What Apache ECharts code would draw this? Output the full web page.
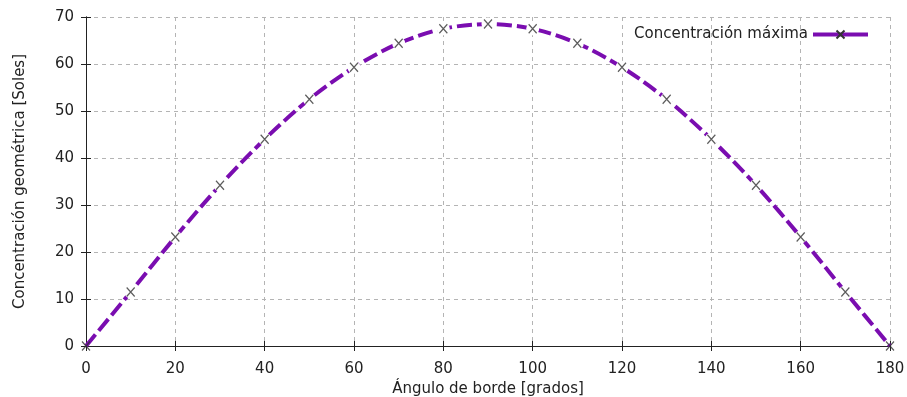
<!DOCTYPE html>
<html><head><meta charset="utf-8">
<script src="https://cdn.jsdelivr.net/npm/echarts@6/dist/echarts.min.js"></script>
<style>html,body{margin:0;padding:0;background:#fff}#c{width:907px;height:397px}</style>
</head><body><div id="c"></div>
<script>
const angles = [0,10,20,30,40,50,60,70,80,90,100,110,120,130,140,150,160,170,180];
const concentration = [0,11.5,23.2,34.2,44,52.5,59.3,64.4,67.5,68.5,67.5,64.4,59.3,52.5,44,34.2,23.2,11.5,0];
const seriesName = 'Concentración máxima';
const xTitle = 'Ángulo de borde [grados]';
const yTitle = 'Concentración geométrica [Soles]';

const pts = angles.map((a,i)=>[a, concentration[i]]);
const xPath = 'path://M0,0L10,10M10,0L0,10';
const purple = '#7a0db0';
const font = 'DejaVu Sans';
const chart = echarts.init(document.getElementById('c'));
const axisCommon = {
  axisLine:{show:true,lineStyle:{color:'#222',width:1}},
  axisTick:{show:true,inside:true,length:5,lineStyle:{color:'#222'}},
};
chart.setOption({
  animation:false,
  textStyle:{fontFamily:font},
  grid:{left:86,right:17,top:17,bottom:51,containLabel:false,outerBoundsMode:'none'},
  legend:{
    data:[seriesName], right:32, top:22, align:'right',
    itemWidth:55, itemHeight:10, itemGap:4,
    lineStyle:{width:4},
    textStyle:{fontFamily:font,fontSize:15,color:'#222'}
  },
  xAxis:[
    Object.assign({type:'value',min:0,max:180,interval:20,
      name:xTitle,nameLocation:'middle',nameGap:36,
      nameTextStyle:{fontFamily:font,fontSize:15,color:'#222'},
      axisLabel:{fontFamily:font,fontSize:15,color:'#222',margin:16},
      splitLine:{show:true,lineStyle:{color:'#b4b4b4',type:[4,4],width:1}}},axisCommon),
    Object.assign({type:'value',min:0,max:180,interval:20,position:'top',
      axisLabel:{show:false},splitLine:{show:false}},axisCommon)
  ],
  yAxis:[
    Object.assign({type:'value',min:0,max:70,interval:10,
      name:yTitle,nameLocation:'middle',nameGap:58,
      nameTextStyle:{fontFamily:font,fontSize:15,color:'#222'},
      axisLabel:{fontFamily:font,fontSize:15,color:'#222',margin:12},
      splitLine:{show:true,lineStyle:{color:'#b4b4b4',type:[4,4],width:1}}},axisCommon),
    Object.assign({type:'value',min:0,max:70,interval:10,position:'right',
      axisLabel:{show:false},splitLine:{show:false}},axisCommon)
  ],
  series:[
    {name:'curve',type:'line',data:pts.map((p,i)=>({value:p,symbol:(i===0||i===pts.length-1)?'none':'circle'})),
     smooth:0.3,symbol:'circle',symbolSize:13,showAllSymbol:true,
     itemStyle:{color:'#fff'},
     lineStyle:{color:purple,width:4,type:[15,5]},
     emphasis:{disabled:true},z:2},
    {name:'marks',type:'scatter',data:pts,symbol:xPath,symbolSize:[8,9],
     itemStyle:{color:'#333',borderColor:'#333',borderWidth:1.3},
     emphasis:{disabled:true},z:3},
    {name:seriesName,type:'line',data:[],symbol:xPath,symbolSize:[8,9],
     itemStyle:{color:'#333',borderColor:'#333',borderWidth:1.3},
     lineStyle:{color:purple,width:4}}
  ]
});
</script></body></html>
